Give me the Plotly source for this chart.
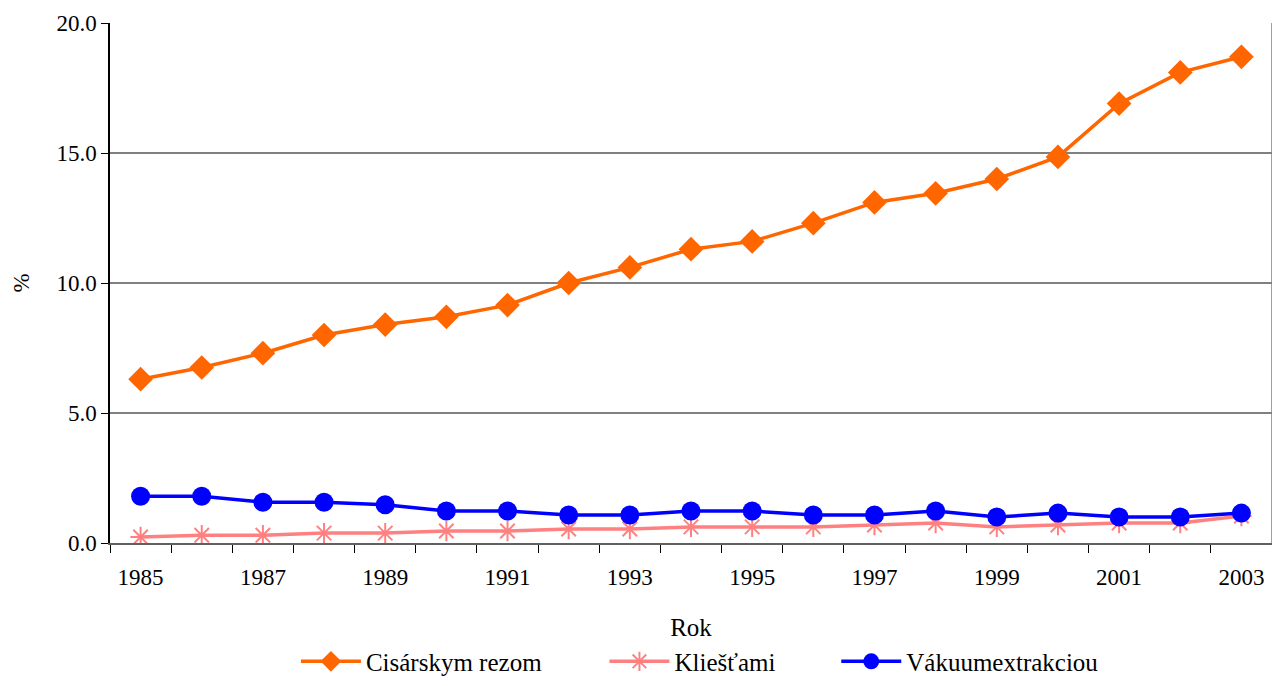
import plotly.graph_objects as go

# ---------------------------
# Data
# ---------------------------
years = list(range(1985, 2004))
cisarsky_rez = [6.3, 6.75, 7.3, 8.0, 8.4, 8.7, 9.15, 10.0, 10.6, 11.3, 11.6, 12.3, 13.1,
                13.45, 14.0, 14.85, 16.9, 18.1, 18.7]
kliestami = [0.23, 0.3, 0.3, 0.38, 0.38, 0.46, 0.46, 0.54, 0.54, 0.62, 0.62, 0.62, 0.69,
             0.77, 0.62, 0.69, 0.77, 0.77, 1.04]
vakuum = [1.8, 1.8, 1.57, 1.57, 1.47, 1.23, 1.23, 1.08, 1.08, 1.23, 1.23, 1.08, 1.08,
          1.23, 1.0, 1.15, 1.0, 1.0, 1.15]
label_years = [y for y in years if y % 2 == 1]
boundaries = [y - 0.5 for y in years] + [years[-1] + 0.5]

font_family = "Liberation Serif, Times New Roman, serif"

fig = go.Figure()
fig.add_trace(go.Scatter(x=years, y=cisarsky_rez, name="Cisárskym rezom", mode="lines+markers",
                         line=dict(color="#FF6600", width=3.5), legend="legend",
                         marker=dict(symbol="diamond", size=19, color="#FF6600")))
fig.add_trace(go.Scatter(x=years, y=kliestami, name="Kliešťami", mode="lines+markers",
                         line=dict(color="#FF8080", width=3.5), legend="legend2",
                         marker=dict(symbol="asterisk-open", size=17,
                                     line=dict(color="#FF8080", width=2))))
fig.add_trace(go.Scatter(x=years, y=vakuum, name="Vákuumextrakciou", mode="lines+markers",
                         line=dict(color="#0000FF", width=3.5), legend="legend3",
                         marker=dict(symbol="circle", size=19, color="#0000FF")))

legend_style = dict(orientation="h", y=-0.228, yanchor="middle", xanchor="left",
                    font=dict(family=font_family, size=25, color="black"), itemwidth=60,
                    bgcolor="rgba(0,0,0,0)")

# page body has an 8px margin, so the figure is offset by 8px
fig.update_layout(
    width=1264, height=670,
    margin=dict(l=102, r=0, t=15, b=135, autoexpand=False),
    plot_bgcolor="white", paper_bgcolor="white",
    font=dict(family=font_family, size=23, color="black"),
    showlegend=True,
    legend=dict(legend_style, x=0.16),
    legend2=dict(legend_style, x=0.4255),
    legend3=dict(legend_style, x=0.625),
    xaxis=dict(range=[1984.5, 2003.5], tickvals=label_years, ticktext=[str(y) for y in label_years],
               ticks="", showgrid=False, showline=True, linecolor="#606060", linewidth=2,
               zeroline=False, ticklabelstandoff=12, automargin=False,
               minor=dict(tickvals=boundaries, ticks="outside", ticklen=8, tickcolor="black",
                          showgrid=False),
               title=dict(text="Rok", font=dict(family=font_family, size=25), standoff=30)),
    yaxis=dict(range=[0, 20], tickvals=[0, 5, 10, 15, 20], tickformat=".1f",
               ticks="outside", ticklen=7, tickcolor="black", automargin=False,
               showgrid=True, gridcolor="#808080", gridwidth=1.5,
               showline=True, linecolor="black", linewidth=1.5, zeroline=False,
               title=dict(text="%", font=dict(family=font_family, size=23), standoff=20)),
)
# right border of plot area
fig.add_shape(type="line", xref="paper", yref="paper", x0=1, x1=1, y0=0, y1=1,
              line=dict(color="#808080", width=1.5))

fig.write_html("out.html")
